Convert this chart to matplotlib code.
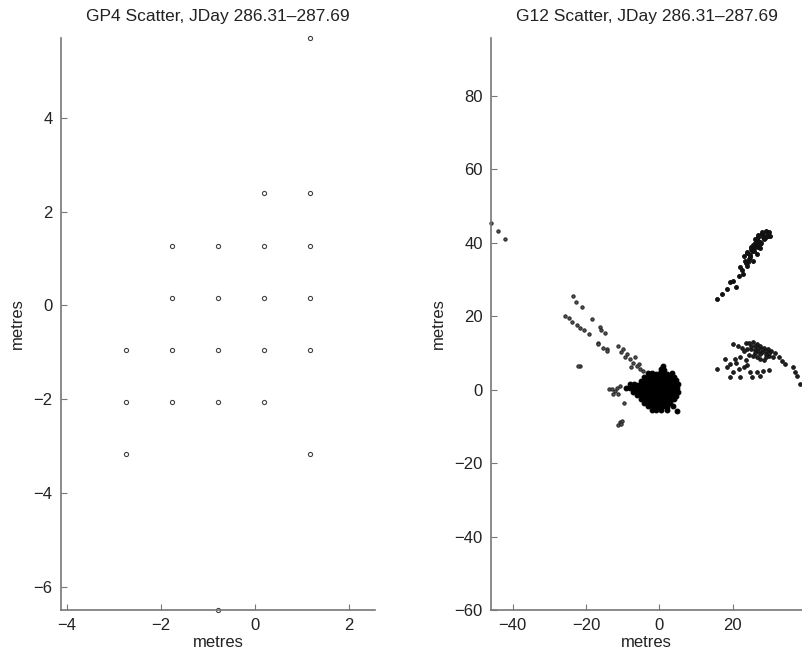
import matplotlib.pyplot as plt

plt.rcParams['font.family'] = ['Liberation Sans', 'DejaVu Sans']

title_left = 'GP4 Scatter, JDay 286.31\u2013287.69'
title_right = 'G12 Scatter, JDay 286.31\u2013287.69'

# GP4 positions (metres)
gp4_x = [1.17,
         0.19, 1.17,
         -1.77, -0.79, 0.19, 1.17,
         -1.77, -0.79, 0.19, 1.17,
         -2.75, -1.77, -0.79, 0.19, 1.17,
         -2.75, -1.77, -0.79, 0.19,
         -2.75, 1.17,
         -0.79]
gp4_y = [5.70,
         2.39, 2.39,
         1.27, 1.27, 1.27, 1.27,
         0.15, 0.15, 0.15, 0.15,
         -0.95, -0.95, -0.95, -0.95, -0.95,
         -2.06, -2.06, -2.06, -2.06,
         -3.17, -3.17,
         -6.49]

# G12 positions (metres): outliers and north-west streak
g12_nw_x = [-45.9, -43.9, -42.0,
            -23.5, -22.8, -21.2, -18.3, -25.7, -24.7, -23.7, -22.5, -21.6,
            -20.5, -19.3, -16.3, -15.9, -14.8, -16.8, -15.4, -14.3, -21.6,
            -22.2, -16.6, -14.3, -11.2, -9.8, -8.9, -8.0, -7.1, -5.6, -6.6,
            -5.3, -4.4, -10.5, -9.3, -7.6, -6.2,
            -13.7, -13.0, -12.1, -11.6, -12.5, -11.2, -10.7, -9.5,
            -10.7, -10.1, -11.2, -10.4]
g12_nw_y = [45.4, 43.2, 41.0,
            25.4, 24.0, 22.4, 19.3, 20.0, 19.5, 18.4, 17.7, 16.8,
            16.3, 15.2, 17.0, 16.3, 15.4, 12.6, 11.5, 11.1, 6.5,
            6.5, 12.5, 10.6, 12.0, 11.1, 9.7, 8.4, 7.4, 7.0, 8.8,
            5.6, 5.2, 10.2, 9.0, 6.3, 6.6,
            0.2, 0.2, -0.3, 0.6, -1.2, -1.2, 1.1, -3.5,
            -8.9, -8.5, -9.5, -9.2]

# dense cluster around the origin
g12_core_x = [1.0, 0.4, 1.3,
              -3.1, -2.0, -0.9, 0.1, 1.1, 2.2, 3.4,
              -4.2, -3.0, -2.1, -0.8, 0.2, 1.0, 2.1, 3.0, 4.1,
              -5.1, -4.0, -3.2, -1.9, -1.1, 0.1, 0.9, 2.0, 3.1, 3.9, 4.6,
              -8.1, -7.0, -6.2, -5.0, -4.1, -2.9, -2.0, -1.0, 0.0, 1.1, 2.0, 2.9, 4.0, 5.0,
              -9.0, -8.1, -6.9, -6.0, -5.1, -3.9, -3.0, -2.1, -0.9, 0.1, 1.0, 2.1, 3.0, 4.1, 4.9,
              -7.2, -6.1, -4.9, -4.0, -3.1, -1.9, -1.0, 0.0, 1.1, 2.0, 3.1, 3.9, 5.1,
              -6.0, -5.1, -3.9, -3.0, -2.0, -1.1, 0.1, 0.9, 2.1, 3.0, 4.0, 4.6,
              -5.0, -4.1, -2.9, -2.0, -1.0, 0.0, 1.0, 1.9, 3.1, 4.0,
              -4.1, -3.0, -1.9, -0.9, 0.1, 1.1, 2.0, 3.0,
              -3.0, -2.1, -1.0, 0.0, 1.0, 2.1, 3.6,
              -2.0, -0.9, 0.5, 2.0, 4.8,
              -2.5, -1.5, -0.5, 0.5, 1.5, 2.5, -3.5, -2.5, -1.5, -0.5, 0.5,
              1.5, 2.5, 3.5, -4.5, -3.5, -2.5, -1.5, -0.5, 0.5, 1.5, 2.5,
              3.5, -5.5, -4.5, -3.5, -2.5, -1.5, -0.5, 0.5, 1.5, 2.5, 3.5,
              -2.5, -1.5, -0.5, 0.5, 1.5, 2.5]
g12_core_y = [6.6, 5.6, 5.4,
              4.5, 4.6, 4.4, 4.5, 4.6, 4.4, 4.5,
              3.5, 3.6, 3.4, 3.5, 3.6, 3.4, 3.5, 3.6, 3.4,
              2.5, 2.6, 2.4, 2.5, 2.6, 2.4, 2.5, 2.6, 2.4, 2.5, 2.6,
              1.5, 1.6, 1.4, 1.5, 1.6, 1.4, 1.5, 1.6, 1.4, 1.5, 1.6, 1.4, 1.5, 1.6,
              0.5, 0.6, 0.4, 0.5, 0.6, 0.4, 0.5, 0.6, 0.4, 0.5, 0.6, 0.4, 0.5, 0.6, 0.4,
              -0.5, -0.4, -0.6, -0.5, -0.4, -0.6, -0.5, -0.4, -0.6, -0.5, -0.4, -0.6, -0.5,
              -1.5, -1.4, -1.6, -1.5, -1.4, -1.6, -1.5, -1.4, -1.6, -1.5, -1.4, -1.6,
              -2.5, -2.4, -2.6, -2.5, -2.4, -2.6, -2.5, -2.4, -2.6, -2.5,
              -3.5, -3.4, -3.6, -3.5, -3.4, -3.6, -3.5, -3.4,
              -4.5, -4.4, -4.6, -4.5, -4.4, -4.6, -4.5,
              -5.5, -5.6, -5.4, -5.5, -5.8,
              3.0, 3.0, 3.0, 3.0, 3.0, 3.0, 1.0, 1.0, 1.0, 1.0, 1.0,
              1.0, 1.0, 1.0, -1.0, -1.0, -1.0, -1.0, -1.0, -1.0, -1.0, -1.0,
              -1.0, 0.0, -2.0, -2.0, -2.0, -2.0, -2.0, -2.0, -2.0, -2.0, -2.0,
              -4.0, -4.0, -4.0, -4.0, -4.0, -4.0]

# north-east streak
g12_ne_x = [15.6, 17.0, 18.4, 19.3, 20.2, 21.6, 22.5, 23.8, 23.4, 24.7, 25.2,
            26.1, 27.0, 27.9, 29.3, 30.2, 28.4, 27.5, 26.6, 25.6, 24.3, 22.0,
            23.0, 24.0, 25.0, 26.0, 27.0, 28.0, 29.0, 30.0, 25.5, 26.5, 27.5,
            28.5, 29.5, 24.8, 25.8, 26.8, 27.8, 28.8, 23.5, 24.5, 22.8, 21.0,
            26.0, 27.0, 28.0, 29.0, 25.5, 26.5, 27.5, 24.0, 25.0]
g12_ne_y = [24.7, 26.1, 27.5, 29.3, 29.7, 31.1, 32.5, 33.8, 35.2, 36.1, 37.9,
            38.8, 40.6, 42.5, 42.9, 42.0, 41.5, 39.7, 37.0, 35.2, 34.7, 33.4,
            36.5, 37.5, 39.0, 40.0, 41.5, 42.5, 43.2, 43.0, 38.0, 39.2, 40.2,
            41.0, 42.0, 36.8, 37.8, 39.0, 40.0, 41.2, 34.5, 35.5, 31.5, 28.0,
            41.0, 42.2, 43.0, 41.8, 39.5, 40.8, 38.5, 37.2, 38.3]

# east cluster
g12_e_x = [15.6, 17.9, 19.3, 20.2, 21.6, 23.0, 24.7, 26.6, 28.4, 29.8, 19.3,
           22.0, 25.2, 27.5, 33.4, 34.3, 36.5, 37.0, 37.5, 38.4,
           20.2, 21.5, 22.5, 23.5, 24.5, 25.5, 26.5, 27.5, 28.5, 29.5, 30.5,
           31.5, 32.5, 23.0, 24.0, 25.0, 26.0, 27.0, 28.0, 29.0, 30.0, 31.0,
           24.5, 25.5, 26.5, 27.5, 28.5, 22.0, 23.5, 20.5, 18.5, 21.0, 23.8,
           25.0, 26.0, 27.0, 28.0, 29.0, 30.0, 26.0, 27.5, 29.0]
g12_e_y = [5.6, 8.4, 7.0, 4.7, 5.6, 6.1, 4.7, 4.7, 5.2, 5.4, 3.4,
           3.4, 3.4, 3.8, 7.9, 7.0, 6.1, 4.7, 3.8, 1.6,
           12.5, 12.0, 11.5, 12.8, 12.6, 12.9, 12.4, 12.0, 11.5, 11.0, 10.5,
           10.0, 8.8, 10.5, 11.2, 11.0, 10.8, 10.6, 10.2, 9.8, 9.2, 8.8,
           9.5, 9.2, 8.8, 8.5, 8.2, 9.0, 8.0, 8.5, 6.2, 7.2, 6.8,
           12.0, 11.8, 11.4, 11.0, 10.6, 10.0, 10.0, 9.6, 9.0]

fig = plt.figure(figsize=(8.02, 6.53), dpi=100)
ax1 = fig.add_axes([0.0761, 0.0658, 0.3915, 0.876])
ax2 = fig.add_axes([0.6122, 0.0658, 0.3878, 0.876])

ax1.plot(gp4_x, gp4_y, 'o', ms=3, mfc='none', mec='#444444', mew=0.8,
         clip_on=False)
ax1.set_xlim(-4.13, 2.55)
ax1.set_ylim(-6.49, 5.70)
ax1.set_xticks([-4, -2, 0, 2])
ax1.set_yticks([-6, -4, -2, 0, 2, 4])

ax2.plot(g12_nw_x, g12_nw_y, 'o', ms=2.4, mfc='#555555', mec='#222222',
         mew=0.7, clip_on=False)
ax2.plot(g12_core_x, g12_core_y, 'o', ms=3.4, mfc='#000000', mec='#000000',
         mew=0.8)
ax2.plot(g12_ne_x, g12_ne_y, 'o', ms=2.8, mfc='#111111', mec='#111111',
         mew=0.7)
ax2.plot(g12_e_x, g12_e_y, 'o', ms=2.6, mfc='#222222', mec='#111111',
         mew=0.7, clip_on=False)
ax2.set_xlim(-45.9, 38.9)
ax2.set_ylim(-60, 95.8)
ax2.set_xticks([-40, -20, 0, 20])
ax2.set_yticks([-60, -40, -20, 0, 20, 40, 60, 80])

for ax, t in [(ax1, title_left), (ax2, title_right)]:
    ax.set_title(t, fontsize=12.5, color='#222222', pad=12)
    ax.set_xlabel('metres', fontsize=12, color='#222222', labelpad=1)
    ax.set_ylabel('metres', fontsize=12, color='#222222', labelpad=6)
    ax.spines['top'].set_visible(False)
    ax.spines['right'].set_visible(False)
    for s in ['left', 'bottom']:
        ax.spines[s].set_color('#777777')
        ax.spines[s].set_linewidth(1.2)
    ax.tick_params(direction='in', length=4, color='#777777',
                   labelsize=12, labelcolor='#222222', pad=6)

fig.savefig('out.png', dpi=100)
